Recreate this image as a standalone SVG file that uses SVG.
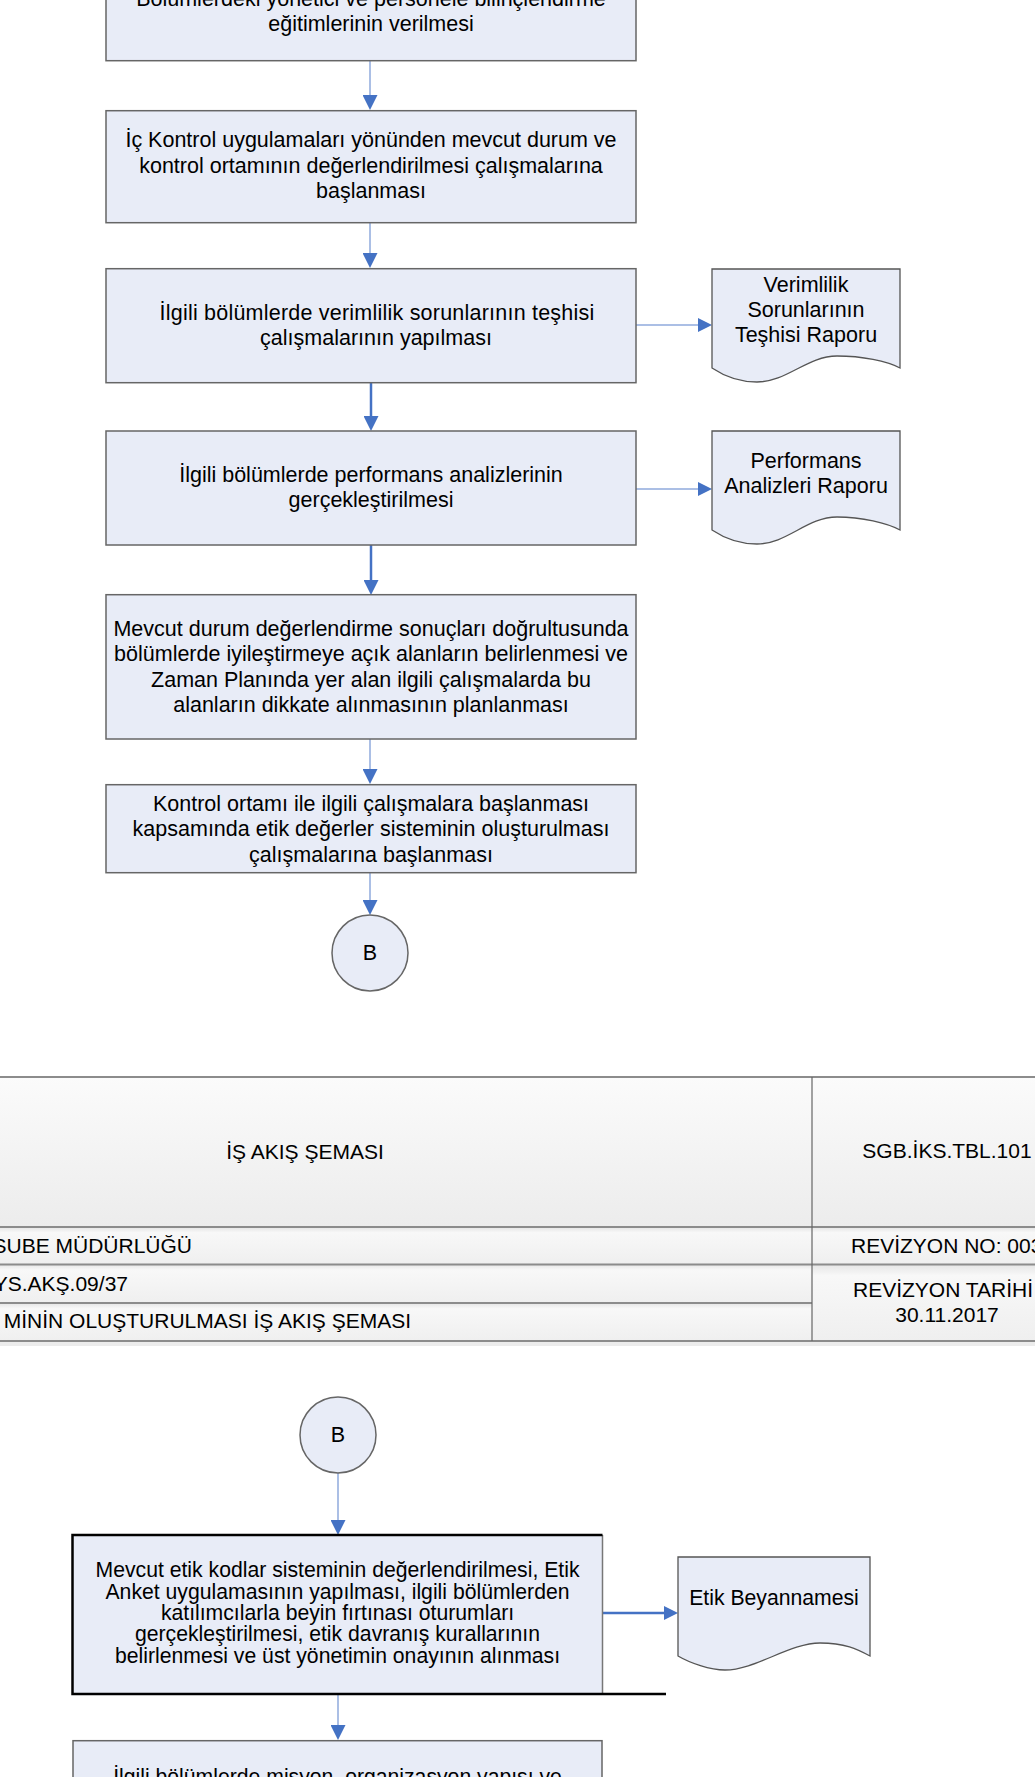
<svg xmlns="http://www.w3.org/2000/svg" width="1035" height="1777" viewBox="0 0 1035 1777">
<defs>
<style>
.box{fill:#E8ECF7;stroke:#666;stroke-width:1.5}
.doc{fill:#E8ECF7;stroke:#555;stroke-width:1.3}
.t{font-family:"Liberation Sans",Arial,sans-serif;font-size:21.5px;fill:#000;text-anchor:middle}
.t7{font-family:"Liberation Sans",Arial,sans-serif;font-size:21.2px;fill:#000;text-anchor:middle}
.tt{font-family:"Liberation Sans",Arial,sans-serif;font-size:21px;fill:#000;text-anchor:middle}
.tl{font-family:"Liberation Sans",Arial,sans-serif;font-size:21px;fill:#000}
.lt{stroke:#8FAADC;stroke-width:1.5;fill:none}
.dk{stroke:#4472C4;stroke-width:2.5;fill:none}
.hl{stroke:#8c8c8c;stroke-width:2}
</style>
<marker id="ah" viewBox="0 0 15 15" refX="2" refY="7.5" markerWidth="15" markerHeight="15" markerUnits="userSpaceOnUse" orient="auto">
<path d="M0,0 L15,7.5 L0,15 Z" fill="#4472C4"/>
</marker>
<marker id="ahs" viewBox="0 0 14 14" refX="2" refY="7" markerWidth="14" markerHeight="14" markerUnits="userSpaceOnUse" orient="auto">
<path d="M0,0 L14,7 L0,14 Z" fill="#4472C4"/>
</marker>
<linearGradient id="hdr" x1="0" y1="0" x2="0" y2="1">
<stop offset="0" stop-color="#fbfbfb"/>
<stop offset="1" stop-color="#ececec"/>
</linearGradient>
<linearGradient id="row" x1="0" y1="0" x2="0" y2="1">
<stop offset="0" stop-color="#e4e4e4"/>
<stop offset="0.15" stop-color="#f8f8f8"/>
<stop offset="1" stop-color="#efefef"/>
</linearGradient>
</defs>
<rect width="1035" height="1777" fill="#fff"/>

<g id="connectors">
<line class="lt" x1="370" y1="61" x2="370" y2="97" marker-end="url(#ah)"/>
<line class="lt" x1="370" y1="223" x2="370" y2="255" marker-end="url(#ah)"/>
<line class="dk" x1="371" y1="383" x2="371" y2="418" marker-end="url(#ah)"/>
<line class="dk" x1="371" y1="545" x2="371" y2="582" marker-end="url(#ah)"/>
<line class="lt" x1="370" y1="739" x2="370" y2="771" marker-end="url(#ah)"/>
<line class="lt" x1="370" y1="873" x2="370" y2="902" marker-end="url(#ah)"/>
<line class="lt" x1="636" y1="325" x2="700" y2="325" marker-end="url(#ahs)"/>
<line class="lt" x1="636" y1="489" x2="700" y2="489" marker-end="url(#ahs)"/>
<line class="lt" x1="338" y1="1473" x2="338" y2="1522" marker-end="url(#ah)"/>
<line class="lt" x1="338" y1="1695" x2="338" y2="1727" marker-end="url(#ah)"/>
<line class="dk" x1="603" y1="1613" x2="666" y2="1613" marker-end="url(#ahs)"/>
</g>

<g id="box1">
<rect class="box" x="106" y="-5" width="530" height="65.7"/>
<text class="t" x="371" y="6">Bölümlerdeki yönetici ve personele bilinçlendirme</text>
<text class="t" x="371" y="31">eğitimlerinin verilmesi</text>
</g>

<g id="box2">
<rect class="box" x="106" y="110.7" width="530" height="112"/>
<text class="t" x="371" y="147.3">İç Kontrol uygulamaları yönünden mevcut durum ve</text>
<text class="t" x="371" y="172.5">kontrol ortamının değerlendirilmesi çalışmalarına</text>
<text class="t" x="371" y="197.5">başlanması</text>
</g>

<g id="box3">
<rect class="box" x="106" y="268.7" width="530" height="114"/>
<text class="t" x="377" y="319.5" letter-spacing="0.22">İlgili bölümlerde verimlilik sorunlarının teşhisi</text>
<text class="t" x="376" y="344.5">çalışmalarının yapılması</text>
</g>

<g id="doc1">
<path class="doc" d="M712,269 H900 V368 C887,361 862,356 837,356 C807,356 787,382 757,382 C742,382 727,378 712,368 Z"/>
<text class="t" x="806" y="292.3">Verimlilik</text>
<text class="t" x="806" y="317">Sorunlarının</text>
<text class="t" x="806" y="342.3">Teşhisi Raporu</text>
</g>

<g id="box4">
<rect class="box" x="106" y="431" width="530" height="114"/>
<text class="t" x="371" y="482.3">İlgili bölümlerde performans analizlerinin</text>
<text class="t" x="371" y="506.5">gerçekleştirilmesi</text>
</g>

<g id="doc2">
<path class="doc" d="M712,431 H900 V530 C887,523 862,517 837,517 C807,517 787,544 757,544 C742,544 727,540 712,530 Z"/>
<text class="t" x="806" y="468.3">Performans</text>
<text class="t" x="806" y="493.3">Analizleri Raporu</text>
</g>

<g id="box5">
<rect class="box" x="106" y="594.7" width="530" height="144.3"/>
<text class="t" x="371" y="635.5">Mevcut durum değerlendirme sonuçları doğrultusunda</text>
<text class="t" x="371" y="661">bölümlerde iyileştirmeye açık alanların belirlenmesi ve</text>
<text class="t" x="371" y="686.5">Zaman Planında yer alan ilgili çalışmalarda bu</text>
<text class="t" x="371" y="712">alanların dikkate alınmasının planlanması</text>
</g>

<g id="box6">
<rect class="box" x="106" y="784.7" width="530" height="88"/>
<text class="t" x="371" y="810.6">Kontrol ortamı ile ilgili çalışmalara başlanması</text>
<text class="t" x="371" y="836.3">kapsamında etik değerler sisteminin oluşturulması</text>
<text class="t" x="371" y="861.6">çalışmalarına başlanması</text>
</g>

<g id="connectorB1">
<circle class="box" cx="370" cy="953" r="38"/>
<text class="t" x="370" y="960">B</text>
</g>

<g id="header">
<rect x="0" y="1077" width="1035" height="150" fill="url(#hdr)"/>
<rect x="0" y="1227" width="1035" height="37" fill="url(#row)"/>
<rect x="0" y="1264" width="812" height="39" fill="url(#row)"/>
<rect x="0" y="1303" width="812" height="38" fill="url(#row)"/>
<rect x="812" y="1264" width="223" height="77" fill="url(#row)"/>
<rect x="0" y="1342" width="1035" height="4" fill="#ececec"/>
<line class="hl" x1="0" y1="1077" x2="1035" y2="1077" stroke="#9a9a9a"/>
<line class="hl" x1="0" y1="1227" x2="1035" y2="1227" stroke="#7a7a7a"/>
<line class="hl" x1="0" y1="1264.5" x2="1035" y2="1264.5"/>
<line class="hl" x1="0" y1="1303" x2="812" y2="1303"/>
<line class="hl" x1="0" y1="1341" x2="1035" y2="1341" stroke="#999" stroke-width="2.5"/>
<line x1="812" y1="1077" x2="812" y2="1341" stroke="#666" stroke-width="1.2"/>
<text class="tt" x="305" y="1159">İŞ AKIŞ ŞEMASI</text>
<text class="tt" x="947" y="1158">SGB.İKS.TBL.101</text>
<text class="tl" x="192" y="1253" text-anchor="end">SUBE MÜDÜRLÜĞÜ</text>
<text class="tl" x="851" y="1253">REVİZYON NO: 003</text>
<text class="tl" x="128" y="1291" text-anchor="end">YS.AKŞ.09/37</text>
<text class="tl" x="411" y="1328" text-anchor="end" font-size="21.4">MİNİN OLUŞTURULMASI İŞ AKIŞ ŞEMASI</text>
<text class="tl" x="853" y="1297">REVİZYON TARİHİ</text>
<text class="tt" x="947" y="1322">30.11.2017</text>
</g>

<g id="connectorB2">
<circle class="box" cx="338" cy="1435" r="38"/>
<text class="t" x="338" y="1442">B</text>
</g>

<g id="box7">
<rect x="72.5" y="1535" width="530" height="159" fill="#E8ECF7"/>
<line x1="602.5" y1="1535" x2="602.5" y2="1694" stroke="#777" stroke-width="1.5"/>
<path d="M602.5,1535 H72.5 V1694 H666" fill="none" stroke="#000" stroke-width="2.5"/>
<text class="t7" x="337.5" y="1577">Mevcut etik kodlar sisteminin değerlendirilmesi, Etik</text>
<text class="t7" x="337.5" y="1598.5">Anket uygulamasının yapılması, ilgili bölümlerden</text>
<text class="t7" x="337.5" y="1620">katılımcılarla beyin fırtınası oturumları</text>
<text class="t7" x="337.5" y="1641">gerçekleştirilmesi, etik davranış kurallarının</text>
<text class="t7" x="337.5" y="1663">belirlenmesi ve üst yönetimin onayının alınması</text>
</g>

<g id="doc3">
<path class="doc" d="M678,1557 H870 V1656 C857,1649 845,1643 820,1643 C790,1643 755,1670 725,1670 C710,1670 690,1663 678,1656 Z"/>
<text class="t7" x="774" y="1605">Etik Beyannamesi</text>
</g>

<g id="box8">
<rect class="box" x="73" y="1740.7" width="529" height="60"/>
<text class="t7" x="337.5" y="1784">İlgili bölümlerde misyon, organizasyon yapısı ve</text>
</g>
</svg>
